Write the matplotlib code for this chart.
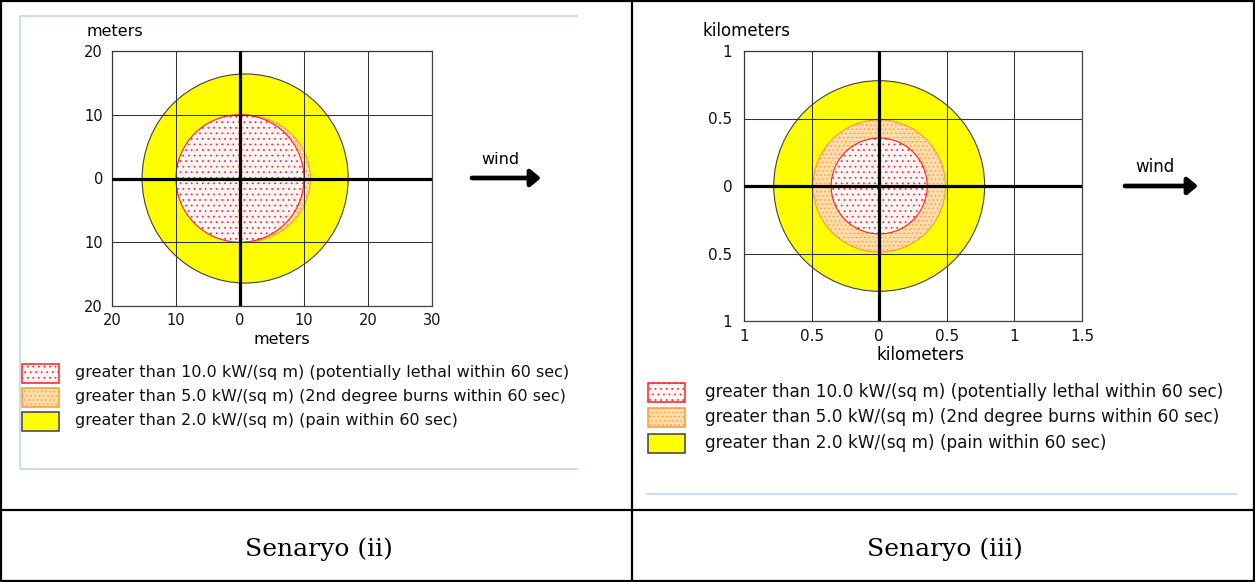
import matplotlib.pyplot as plt
from matplotlib.patches import Ellipse, Rectangle

plt.rcParams["font.family"] = ["DejaVu Sans"]
plt.rcParams["hatch.linewidth"] = 0.5

# threat zones, inner (red) to outer (yellow)
zone_labels = [
    "greater than 10.0 kW/(sq m) (potentially lethal within 60 sec)",
    "greater than 5.0 kW/(sq m) (2nd degree burns within 60 sec)",
    "greater than 2.0 kW/(sq m) (pain within 60 sec)",
]
zone_face = ["#fff5f5", "#ffdcaa", "#ffff00"]
zone_edge = ["#ff2020", "#ff9a30", "#404040"]
zone_hatch = ["...", "....", None]

# scenario (ii), meters
ii_center_x = [0.0, 0.5, 0.8]
ii_radius_x = [10.0, 10.5, 16.1]
ii_radius_y = [10.0, 10.0, 16.4]
ii_xticks = [-20, -10, 0, 10, 20, 30]
ii_yticks = [-20, -10, 0, 10, 20]

# scenario (iii), kilometers
iii_center_x = [0.0, 0.0, 0.0]
iii_radius_x = [0.355, 0.49, 0.78]
iii_radius_y = [0.355, 0.49, 0.78]
iii_xticks = [-1, -0.5, 0, 0.5, 1, 1.5]
iii_yticks = [-1, -0.5, 0, 0.5, 1]

captions = ["Senaryo (ii)", "Senaryo (iii)"]

W, H = 1255, 582
fig = plt.figure(figsize=(W / 100, H / 100), dpi=100)

# overlay in pixel coordinates for the table, frames, legends
bg = fig.add_axes([0, 0, 1, 1], zorder=0)
bg.set_xlim(0, W)
bg.set_ylim(H, 0)
bg.axis("off")


def px_axes(x0, y0, x1, y1):
    return fig.add_axes([x0 / W, 1 - y1 / H, (x1 - x0) / W, (y1 - y0) / H], zorder=2)


def threat_plot(ax, cx, rx, ry, xticks, yticks, xpad, ypad, fs):
    for i in reversed(range(len(zone_labels))):
        ax.add_patch(Ellipse((cx[i], 0), 2 * rx[i], 2 * ry[i],
                             facecolor=zone_face[i], edgecolor=zone_edge[i],
                             hatch=zone_hatch[i], lw=0.8, zorder=1))
    ax.set_xlim(xticks[0], xticks[-1])
    ax.set_ylim(yticks[0], yticks[-1])
    ax.set_xticks(xticks, [f"{abs(t):g}" for t in xticks])
    ax.set_yticks(yticks, [f"{abs(t):g}" for t in yticks])
    ax.tick_params(length=0, labelsize=fs, labelcolor="#111111")
    ax.tick_params(axis="x", pad=xpad)
    ax.tick_params(axis="y", pad=ypad)
    ax.grid(True, color="#333333", lw=0.75, zorder=2)
    ax.set_axisbelow(False)
    for sp in ax.spines.values():
        sp.set_color("#444444")
        sp.set_linewidth(0.9)
    ax.axhline(0, color="black", lw=2.3, zorder=3)
    ax.axvline(0, color="black", lw=2.3, zorder=3)


ax1 = px_axes(112, 51, 432, 306)
threat_plot(ax1, ii_center_x, ii_radius_x, ii_radius_y, ii_xticks, ii_yticks, 5, 6.5, 10.5)
ax2 = px_axes(744, 51, 1082, 321)
threat_plot(ax2, iii_center_x, iii_radius_x, iii_radius_y, iii_xticks, iii_yticks, 6, 8.5, 11)

# axis unit labels
bg.text(87, 31, "meters", fontsize=11.5, va="center", ha="left")
bg.text(282, 340, "meters", fontsize=11.5, va="center", ha="center")
bg.text(703, 31, "kilometers", fontsize=12, va="center", ha="left")
bg.text(921, 355, "kilometers", fontsize=12, va="center", ha="center")

# wind arrows
for tx, ty, x0, x1, y, fs in [(500, 160, 472, 541, 178, 11.5), (1155, 167, 1125, 1198, 186, 12)]:
    bg.text(tx, ty, "wind", fontsize=fs, ha="center", va="center")
    bg.annotate("", xy=(x1, y), xytext=(x0, y),
                arrowprops=dict(arrowstyle="-|>,head_width=0.5,head_length=0.6",
                                lw=3.4, color="black", capstyle="round",
                                shrinkA=0, shrinkB=0))

# legends
for lx, tx, ys, fs in [(22, 75, [373, 397, 421], 11.5), (648, 705, [392, 417, 443], 12.2)]:
    for i, yc in enumerate(ys):
        bg.add_patch(Rectangle((lx, yc - 9), 37, 19, facecolor=zone_face[i],
                               edgecolor=zone_edge[i], hatch=zone_hatch[i], lw=1.1))
        bg.text(tx, yc, zone_labels[i], fontsize=fs, va="center", ha="left",
                color="#111111")

# light blue image frames
frame = "#bdd7ee"
bg.plot([577, 20, 20, 577], [16, 16, 469, 469], color=frame, lw=1.2)
bg.plot([647, 1236], [494, 494], color=frame, lw=1.2)

# table lines
tl = dict(color="black", lw=1.6, solid_capstyle="projecting")
bg.plot([1, W - 1, W - 1, 1, 1], [1, 1, H - 1, H - 1, 1], **tl)
bg.plot([632, 632], [0, H], **tl)
bg.plot([0, W], [510, 510], **tl)

# captions
for cx, cap in zip([319, 945], captions):
    bg.text(cx, 549, cap, fontsize=18, family="DejaVu Serif", ha="center", va="center")

fig.savefig("out.png", dpi=100)
